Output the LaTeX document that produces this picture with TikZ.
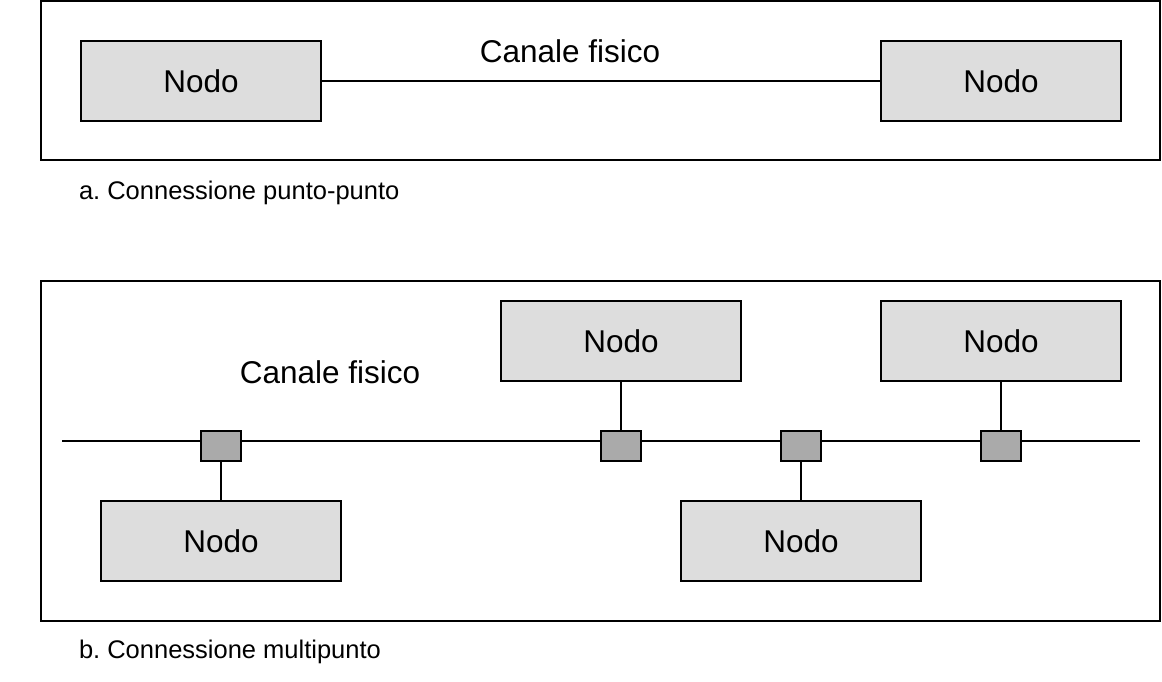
\documentclass[tikz,border=0pt]{standalone}
\usepackage{fontspec}
\setmainfont{Liberation Sans}
\frenchspacing
\definecolor{nodefill}{HTML}{DDDDDD}
\definecolor{portfill}{HTML}{AAAAAA}
\begin{document}
\begin{tikzpicture}[x=1pt,y=-1pt,line width=2pt,
  frame/.style={draw,line width=2pt},
  nodobox/.style={draw,fill=nodefill,minimum width=240pt,minimum height=80pt,inner sep=0pt,font=\fontsize{31.5}{36}\selectfont},
  port/.style={draw,fill=portfill,minimum width=40pt,minimum height=30pt,inner sep=0pt},
  biglabel/.style={font=\fontsize{31.5}{36}\selectfont,inner sep=0pt},
  caption/.style={font=\fontsize{25.5}{30}\selectfont,inner sep=0pt,anchor=west}]
\useasboundingbox (0,0) rectangle (1162,682);
% (a)
\draw[frame] (41,1) rectangle (1160,160);
\node[nodobox] (a1) at (201,81) {Nodo};
\node[nodobox] (a2) at (1001,81) {Nodo};
\draw (a1.east) -- (a2.west);
\node[biglabel] (ca) at (570,51) {Canale fisico};
\node[caption] (capa) at (78,193) {a. Connessione punto-punto};
% (b)
\draw[frame] (41,281) rectangle (1160,621);
\coordinate (busL) at (62,441);
\coordinate (busR) at (1140,441);
\draw (busL) -- (busR);
\node[port] (p1) at (221,446) {};
\node[port] (p2) at (621,446) {};
\node[port] (p3) at (801,446) {};
\node[port] (p4) at (1001,446) {};
\node[nodobox] (b1) at (621,341) {Nodo};
\node[nodobox] (b2) at (1001,341) {Nodo};
\node[nodobox] (b3) at (221,541) {Nodo};
\node[nodobox] (b4) at (801,541) {Nodo};
\draw (b1.south) -- (p2.north);
\draw (b2.south) -- (p4.north);
\draw (p1.south) -- (b3.north);
\draw (p3.south) -- (b4.north);
\node[biglabel] (cb) at (330,372) {Canale fisico};
\node[caption] (capb) at (78,652) {b. Connessione multipunto};
\end{tikzpicture}
\end{document}
